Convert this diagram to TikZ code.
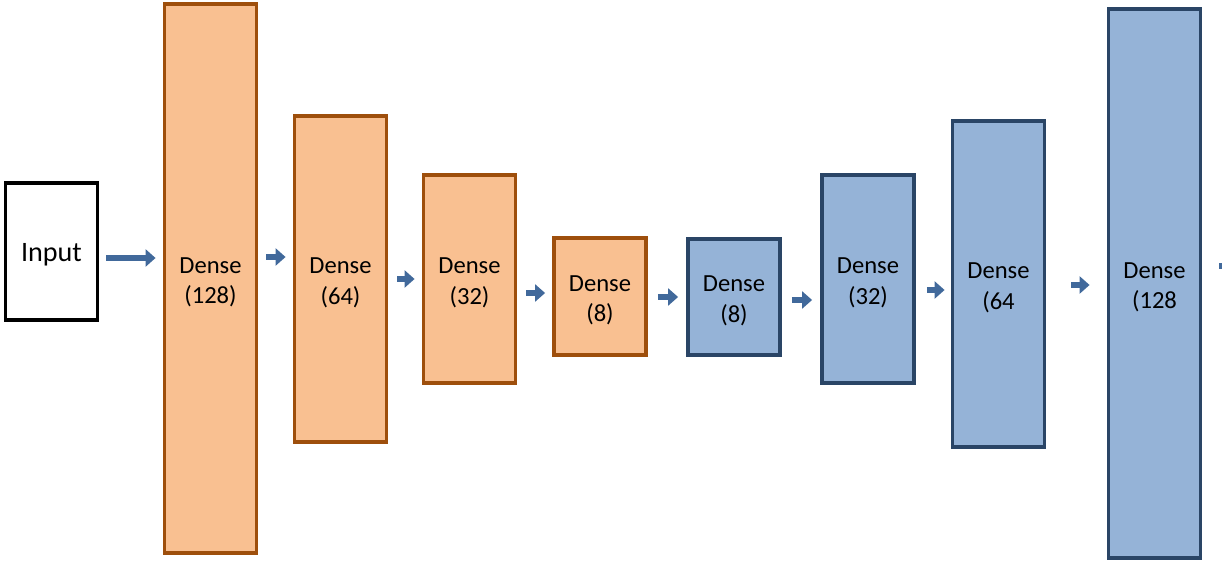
\documentclass[tikz,border=0pt]{standalone}
\usepackage{fontspec}
\setmainfont{Carlito}
\usepackage{tikz}
\usetikzlibrary{arrows.meta,positioning,calc}

\definecolor{encfill}{HTML}{F9C091}
\definecolor{encline}{HTML}{9E4F0C}
\definecolor{decfill}{HTML}{95B3D7}
\definecolor{decline}{HTML}{2A4566}
\definecolor{flowblue}{HTML}{41699B}

\begin{document}
\begin{tikzpicture}[x=0.02cm,y=-0.02cm,
		enc/.style={draw=encline,fill=encfill,line width=2.2pt,minimum width=1.84cm,align=center,text height=29pt,text depth=0pt,font=\fontsize{14}{17.6}\selectfont},
		dec/.style={enc,draw=decline,fill=decfill},
		flow/.style={-{Triangle[length=0.2cm,width=0.34cm]},line width=0.13cm,color=flowblue}]
		\useasboundingbox (0,0) rectangle (1222,564);
		\node[draw=black,line width=2.2pt,minimum width=1.84cm,minimum height=2.74cm,text height=11.4pt,text depth=0pt,font=\fontsize{16}{19}\selectfont] (in) at (51.5,251.5) {Input};
		\node[enc,minimum height=10.98cm] (d1) at (210.5,278.5) {Dense\\(128)};
		\node[enc,minimum height=6.52cm] (d2) at (340.5,279) {Dense\\(64)};
		\node[enc,minimum height=4.16cm] (d3) at (469.5,279) {Dense\\(32)};
		\node[enc,minimum height=2.34cm] (d4) at (600,296.5) {Dense\\(8)};
		\node[dec,minimum height=2.32cm] (d5) at (734,297) {Dense\\(8)};
		\node[dec,minimum height=4.16cm] (d6) at (868,279) {Dense\\(32)};
		\node[dec,minimum height=6.52cm] (d7) at (998.5,284) {Dense\\(64};
		\node[dec,minimum height=10.98cm] (d8) at (1154.5,283.5) {Dense\\(128};
		\coordinate (out) at (1250,266);
		\foreach \a/\b/\y/\s/\e in {in/d1/258/7/7,d1/d2/257/8/7,d2/d3/279/9/7,d3/d4/293/9/7,d4/d5/297/10/8,d5/d6/300/10/8,d6/d7/290/11/6,d7/d8/285/25/17}
			\draw[flow,shorten <=\s*0.02cm,shorten >=\e*0.02cm] (\a.east |- 0,\y) -- (\b.west |- 0,\y);
		\draw[flow,shorten <=17*0.02cm] (d8.east |- 0,266) -- (out);
\end{tikzpicture}
\end{document}
